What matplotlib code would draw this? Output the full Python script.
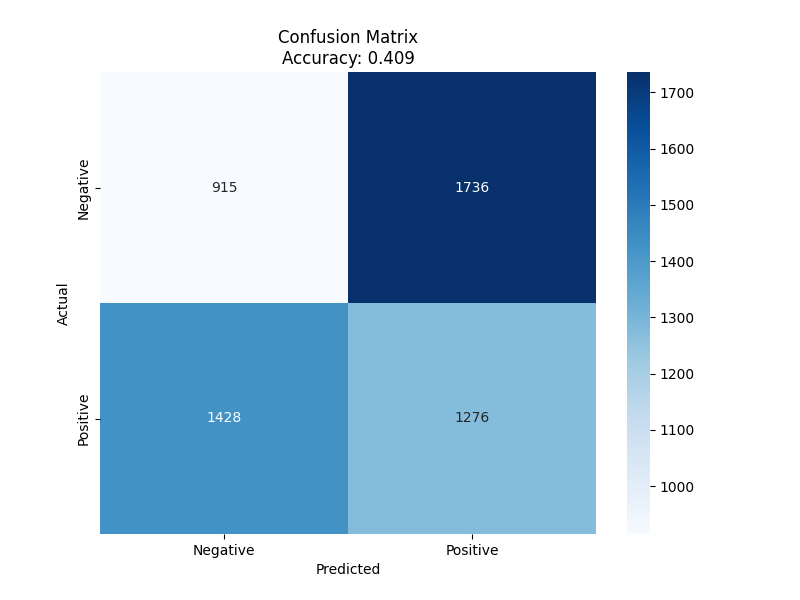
import numpy as np
import matplotlib
matplotlib.use("Agg")
import matplotlib.pyplot as plt
import seaborn as sns

labels = ["Negative", "Positive"]
row_negative = [915, 1736]
row_positive = [1428, 1276]

cm = np.array([row_negative, row_positive])
accuracy = np.trace(cm) / cm.sum()

plt.figure(figsize=(8, 6), dpi=100)
sns.heatmap(cm, annot=True, fmt="d", cmap="Blues",
            xticklabels=labels, yticklabels=labels)
plt.title(f"Confusion Matrix\nAccuracy: {accuracy:.3f}")
plt.xlabel("Predicted")
plt.ylabel("Actual")
plt.savefig("out.png", dpi=100)
